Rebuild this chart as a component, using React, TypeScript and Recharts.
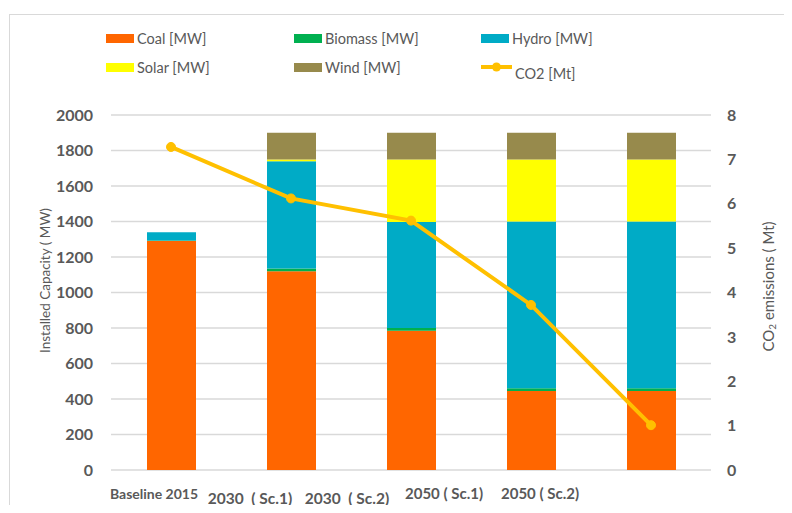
import React from "react";
import {
  ComposedChart,
  Bar,
  Line,
  XAxis,
  YAxis,
  CartesianGrid,
  Label,
} from "recharts";

const categories = [
  "Baseline 2015",
  "2030  ( Sc.1)",
  "2030  ( Sc.2)",
  "2050 ( Sc.1)",
  "2050 ( Sc.2)",
];
const coal = [1290, 1120, 785, 445, 445];
const biomass = [3, 15, 15, 15, 15];
const hydro = [47, 605, 597, 940, 940];
const solar = [0, 10, 352, 350, 350];
const wind = [0, 150, 151, 150, 150];
const co2 = [7.28, 6.12, 5.62, 3.72, 1.01];

const leftTicks = [0, 200, 400, 600, 800, 1000, 1200, 1400, 1600, 1800, 2000];
const rightTicks = [0, 1, 2, 3, 4, 5, 6, 7, 8];

const data = categories.map((name, i) => ({
  name,
  coal: coal[i],
  biomass: biomass[i],
  hydro: hydro[i],
  solar: solar[i],
  wind: wind[i],
  co2: co2[i],
}));

const FONT = "Lato, 'Open Sans', sans-serif";
const GREY = "#595959";

const colors = {
  coal: "#FF6600",
  biomass: "#00B050",
  hydro: "#00ABC6",
  solar: "#FFFF00",
  wind: "#978A4C",
  co2: "#FFC000",
};

const legendItems = [
  { key: "coal", label: "Coal [MW]", col: 0, row: 0 },
  { key: "biomass", label: "Biomass [MW]", col: 1, row: 0 },
  { key: "hydro", label: "Hydro [MW]", col: 2, row: 0 },
  { key: "solar", label: "Solar [MW]", col: 0, row: 1 },
  { key: "wind", label: "Wind [MW]", col: 1, row: 1 },
  { key: "co2", label: "CO2 [Mt]", col: 2, row: 1 },
];

// hand-placed category labels in the original, they drift left of the bars
const xLabelShift = [
  { dx: -17, dy: 23, size: 14 },
  { dx: -41, dy: 28, size: 15.5 },
  { dx: -64, dy: 28, size: 15.5 },
  { dx: -87, dy: 23, size: 15 },
  { dx: -111, dy: 23, size: 15 },
];

const XTick = (props: any) => {
  const { x, y, payload, index } = props;
  const s = xLabelShift[index] || { dx: 0, dy: 23, size: 15 };
  return (
    <text
      x={x + s.dx}
      y={y + s.dy}
      textAnchor="middle"
      dominantBaseline="central"
      fill={GREY}
      fontSize={s.size}
      fontWeight="bold"
      fontFamily={FONT}
      style={{ whiteSpace: "pre" }}
    >
      {payload.value}
    </text>
  );
};

function ChartLegend() {
  const colLeft = [98, 286, 473];
  const rowMid = [30, 59];
  return (
    <>
      {legendItems.map((it) => {
        const left = colLeft[it.col];
        const mid = rowMid[it.row];
        const isLine = it.key === "co2";
        return (
          <div
            key={it.key}
            style={{
              position: "absolute",
              left,
              top: mid - 12,
              height: 24,
              display: "flex",
              alignItems: "center",
              fontFamily: FONT,
              fontSize: 14.5,
              color: GREY,
              whiteSpace: "nowrap",
            }}
          >
            {isLine ? (
              <svg width={31} height={12} style={{ marginRight: 3 }}>
                <line x1={0} y1={6} x2={31} y2={6} stroke={colors.co2} strokeWidth={4} />
                <circle cx={15.5} cy={6} r={4.5} fill={colors.co2} />
              </svg>
            ) : (
              <div
                style={{
                  width: 28,
                  height: 9,
                  background: (colors as any)[it.key],
                  marginRight: 3,
                }}
              />
            )}
            <span style={{ position: "relative", top: isLine ? 6 : 0 }}>{it.label}</span>
          </div>
        );
      })}
    </>
  );
}

export default function App() {
  return (
    <div
      style={{
        position: "relative",
        width: 784,
        height: 505,
        marginBottom: -8,
        overflow: "hidden",
      }}
    >
      <div
        style={{
          position: "absolute",
          left: 1,
          top: 6,
          width: 900,
          height: 600,
          border: "1px solid #d9d9d9",
        }}
      />
      <ChartLegend />
      <ComposedChart
        width={784}
        height={505}
        data={data}
        margin={{ top: 107, right: 0, left: 0, bottom: 0 }}
        barSize={49}
        style={{ fontFamily: FONT }}
      >
        <CartesianGrid
          yAxisId="left"
          vertical={false}
          stroke="#d9d9d9"
          strokeWidth={1.5}
        />
        <XAxis
          dataKey="name"
          height={43}
          axisLine={false}
          tickLine={false}
          tickSize={0}
          tickMargin={0}
          interval={0}
          tick={<XTick />}
        />
        <YAxis
          yAxisId="left"
          width={103}
          domain={[0, 2000]}
          ticks={leftTicks}
          axisLine={false}
          tickLine={false}
          tickSize={0}
          tickMargin={18}
          tick={{ fill: GREY, fontSize: 16, fontWeight: "bold", fontFamily: FONT }}
        >
          <Label
            content={(p: any) => {
              const vb = p.viewBox || {};
              const cx = (vb.x || 0) + 37;
              const cy = (vb.y || 107) + (vb.height || 355) / 2 - 12;
              return (
                <text
                  x={cx}
                  y={cy}
                  transform={`rotate(-90 ${cx} ${cy})`}
                  textAnchor="middle"
                  dominantBaseline="central"
                  fill={GREY}
                  fontSize={13.5}
                  fontFamily={FONT}
                >
                  Installed Capacity ( MW)
                </text>
              );
            }}
          />
        </YAxis>
        <YAxis
          yAxisId="right"
          orientation="right"
          width={81}
          domain={[0, 8]}
          ticks={rightTicks}
          axisLine={false}
          tickLine={false}
          tickSize={0}
          tickMargin={16}
          tick={{ fill: GREY, fontSize: 16, fontWeight: "bold", fontFamily: FONT }}
        >
          <Label
            content={(p: any) => {
              const vb = p.viewBox || {};
              const cx = (vb.x || 703) + 57;
              const cy = (vb.y || 107) + (vb.height || 355) / 2 - 6;
              return (
                <text
                  x={cx}
                  y={cy}
                  transform={`rotate(-90 ${cx} ${cy})`}
                  textAnchor="middle"
                  dominantBaseline="central"
                  fill={GREY}
                  fontSize={15}
                  fontFamily={FONT}
                >
                  CO
                  <tspan fontSize={10} dy={4}>
                    2
                  </tspan>
                  <tspan dy={-4}> emissions ( Mt)</tspan>
                </text>
              );
            }}
          />
        </YAxis>
        <Bar yAxisId="left" dataKey="coal" stackId="a" fill={colors.coal} isAnimationActive={false} />
        <Bar yAxisId="left" dataKey="biomass" stackId="a" fill={colors.biomass} isAnimationActive={false} />
        <Bar yAxisId="left" dataKey="hydro" stackId="a" fill={colors.hydro} isAnimationActive={false} />
        <Bar yAxisId="left" dataKey="solar" stackId="a" fill={colors.solar} isAnimationActive={false} />
        <Bar yAxisId="left" dataKey="wind" stackId="a" fill={colors.wind} isAnimationActive={false} />
        <Line
          yAxisId="right"
          type="linear"
          dataKey="co2"
          stroke={colors.co2}
          strokeWidth={4}
          dot={{ r: 4.5, fill: colors.co2, stroke: colors.co2, strokeWidth: 1 }}
          isAnimationActive={false}
        />
      </ComposedChart>
    </div>
  );
}
